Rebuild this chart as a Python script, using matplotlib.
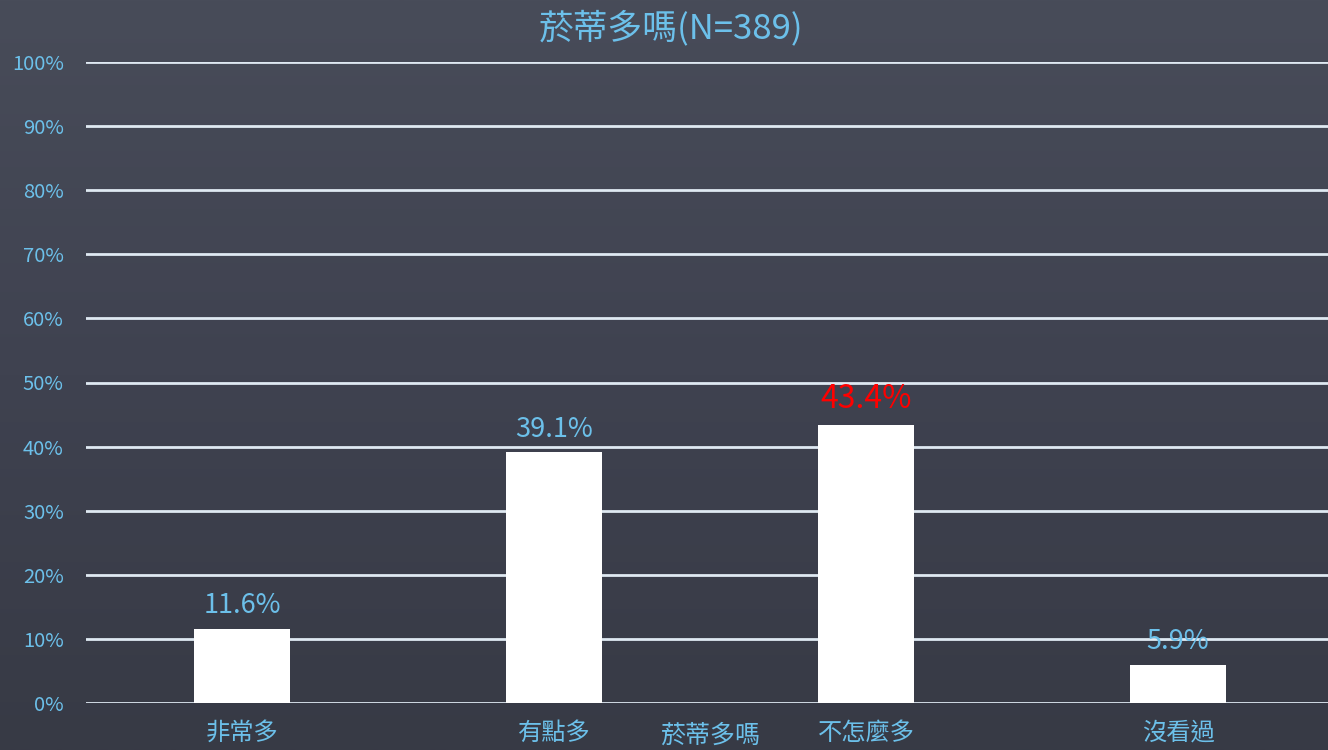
import numpy as np
import matplotlib
matplotlib.use('Agg')
import matplotlib.pyplot as plt
from matplotlib.colors import LinearSegmentedColormap

plt.rcParams['font.family'] = ['Noto Sans CJK TC', 'DejaVu Sans']

# data
categories = ['非常多', '有點多', '不怎麼多', '沒看過']
values = [11.6, 39.1, 43.4, 5.9]
value_labels = ['11.6%', '39.1%', '43.4%', '5.9%']
label_colors = ['#6cc0ea', '#6cc0ea', '#ff0000', '#6cc0ea']
label_sizes = [19.5, 19.5, 23, 19.5]
yticks = list(range(0, 101, 10))

blue = '#6cc0ea'

fig = plt.figure(figsize=(13.28, 7.5), dpi=100)

# chalkboard-like background (vertical gradient)
bg = fig.add_axes([0, 0, 1, 1])
cmap = LinearSegmentedColormap.from_list('board', ['#373a45', '#3f4250', '#484c59'])
grad = np.linspace(0, 1, 256).reshape(-1, 1)
bg.imshow(grad, aspect='auto', cmap=cmap, origin='lower', extent=[0, 1, 0, 1])
bg.axis('off')

ax = fig.add_axes([86 / 1328, 47 / 750, 1248 / 1328, 641 / 750])
ax.patch.set_alpha(0)

x = np.arange(len(categories))
ax.bar(x, values, width=0.31, color='white', zorder=3)

for xi, v, lab, c, fs in zip(x, values, value_labels, label_colors, label_sizes):
    ax.annotate(lab, (xi, v), xytext=(0, 7), textcoords='offset points',
                ha='center', va='bottom', fontsize=fs, color=c)

ax.set_xlim(-0.5, 3.5)
ax.set_ylim(0, 100)
ax.set_yticks(yticks)
ax.set_yticklabels([f'{t}%' for t in yticks])
ax.set_xticks(x)
ax.set_xticklabels(categories)
ax.tick_params(axis='y', length=0, pad=16, labelsize=14.5, labelcolor=blue)
ax.tick_params(axis='x', length=0, pad=12, labelsize=17.5, labelcolor=blue)

ax.grid(axis='y', color='#dfe9f2', linewidth=2, zorder=1)
ax.set_axisbelow(True)
for s in ax.spines.values():
    s.set_visible(False)

ax.set_xlabel('菸蒂多嗎', fontsize=18, color=blue)
ax.xaxis.set_label_coords(0.5, -0.051)
ax.xaxis.label.set_va('center')
fig.text(671 / 1328, 1 - 28 / 750, '菸蒂多嗎(N=389)', fontsize=25, color=blue,
         ha='center', va='center')

fig.savefig('out.png', dpi=100)
